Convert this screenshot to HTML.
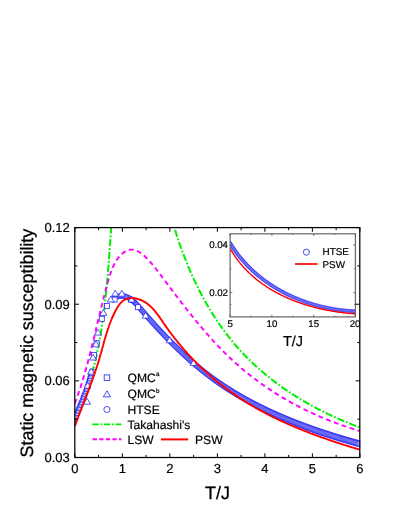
<!DOCTYPE html>
<html><head><meta charset="utf-8"><title>chart</title>
<style>html,body{margin:0;padding:0;background:#fff;}body{width:395px;height:511px;position:relative;overflow:hidden;font-family:"Liberation Sans",sans-serif;}</style>
</head><body>
<svg width="395" height="511" viewBox="0 0 395 511" style="position:absolute;left:0;top:0">
<defs><clipPath id="cm"><rect x="74.8" y="227.6" width="285.6" height="229.9"/></clipPath>
<clipPath id="ci"><rect x="230.1" y="233.8" width="125.3" height="83.1"/></clipPath></defs>
<g clip-path="url(#cm)" fill="none">
<path d="M74.7 421.8 L74.9 421.3 L75.2 420.8 L75.4 420.3 L75.6 419.8 L75.8 419.3 L76.1 418.8 L76.3 418.2 L76.5 417.7 L76.7 417.2 L77.0 416.7 L77.2 416.2 L77.4 415.7 L77.6 415.2 L77.8 414.6 L78.1 414.1 L78.3 413.6 L78.5 413.1 L78.7 412.6 L78.9 412.1 L79.1 411.5 L79.3 411.0 L79.5 410.5 L79.7 410.0 L80.0 409.5 L80.2 408.9 L80.4 408.4 L80.6 407.9 L80.8 407.4 L81.0 406.9 L81.2 406.3 L81.4 405.8 L81.6 405.3 L81.8 404.8 L82.0 404.3 L82.2 403.7 L82.4 403.2 L82.6 402.7 L82.8 402.2 L83.0 401.7 L83.2 401.1 L83.3 400.6 L83.5 400.1 L83.7 399.6 L83.9 399.0 L84.1 398.5 L84.3 398.0 L84.5 397.5 L84.7 397.0 L84.9 396.4 L85.0 395.9 L85.2 395.4 L85.4 394.9 L85.6 394.3 L85.8 393.8 L85.9 393.3 L86.1 392.8 L86.3 392.2 L86.5 391.7 L86.7 391.2 L86.8 390.7 L87.0 390.1 L87.2 389.6 L87.3 389.1 L87.5 388.5 L87.7 388.0 L87.9 387.5 L88.0 387.0 L88.2 386.4 L88.4 385.9 L88.5 385.4 L88.7 384.8 L88.9 384.3 L89.0 383.8 L89.2 383.3 L89.4 382.7 L89.5 382.2 L89.7 381.7 L89.8 381.1 L90.0 380.6 L90.1 380.1 L90.3 379.5 L90.5 379.0 L90.6 378.5 L90.8 377.9 L90.9 377.4 L91.1 376.9 L91.2 376.4 L91.4 375.8 L91.5 375.3 L91.7 374.8 L91.8 374.2 L92.0 373.7 L92.1 373.2 L92.3 372.6 L92.4 372.1 L92.6 371.6 L92.7 371.0 L92.8 370.5 L93.0 370.0 L93.1 369.4 L93.3 368.9 L93.4 368.3 L93.5 367.8 L93.7 367.3 L93.8 366.7 L94.0 366.2 L94.1 365.7 L94.2 365.1 L94.4 364.6 L94.5 364.1 L94.6 363.5 L94.8 363.0 L94.9 362.4 L95.0 361.9 L95.1 361.4 L95.3 360.8 L95.4 360.3 L95.5 359.8 L95.7 359.2 L95.8 358.7 L95.9 358.1 L96.0 357.6 L96.1 357.1 L96.3 356.5 L96.4 356.0 L96.5 355.4 L96.6 354.9 L96.8 354.4 L96.9 353.8 L97.0 353.3 L97.1 352.7 L97.2 352.2 L97.3 351.7 L97.4 351.1 L97.6 350.6 L97.7 350.0 L97.8 349.5 L97.9 349.0 L98.0 348.4 L98.1 347.9 L98.2 347.3 L98.3 346.8 L98.4 346.2 L98.5 345.7 L98.7 345.2 L98.8 344.6 L98.9 344.1 L99.0 343.5 L99.1 343.0 L99.2 342.4 L99.3 341.9 L99.4 341.4 L99.5 340.8 L99.6 340.3 L99.7 339.7 L99.8 339.2 L99.9 338.6 L100.0 338.1 L100.1 337.5 L100.2 337.0 L100.3 336.5 L100.4 335.9 L100.5 335.4 L100.5 334.8 L100.6 334.3 L100.7 333.7 L100.8 333.2 L100.9 332.6 L101.0 332.1 L101.1 331.5 L101.2 331.0 L101.3 330.4 L101.4 329.9 L101.4 329.4 L101.5 328.8 L101.6 328.3 L101.7 327.7 L101.8 327.2 L101.9 326.6 L102.0 326.1 L102.0 325.5 L102.1 325.0 L102.2 324.4 L102.3 323.9 L102.4 323.3 L102.4 322.8 L102.5 322.2 L102.6 321.7 L102.7 321.1 L102.8 320.6 L102.8 320.0 L102.9 319.5 L103.0 318.9 L103.1 318.4 L103.1 317.8 L103.2 317.3 L103.3 316.7 L103.4 316.2 L103.4 315.6 L103.5 315.1 L103.6 314.5 L103.7 314.0 L103.7 313.4 L103.8 312.9 L103.9 312.3 L103.9 311.8 L104.0 311.2 L104.1 310.7 L104.2 310.1 L104.2 309.6 L104.3 309.0 L104.4 308.5 L104.4 307.9 L104.5 307.4 L104.6 306.8 L104.6 306.3 L104.7 305.7 L104.7 305.2 L104.8 304.6 L104.9 304.1 L104.9 303.5 L105.0 303.0 L105.1 302.4 L105.1 301.9 L105.2 301.3 L105.2 300.8 L105.3 300.2 L105.4 299.7 L105.4 299.1 L105.5 298.5 L105.5 298.0 L105.6 297.4 L105.7 296.9 L105.7 296.3 L105.8 295.8 L105.8 295.2 L105.9 294.7 L105.9 294.1 L106.0 293.6 L106.1 293.0 L106.1 292.5 L106.2 291.9 L106.2 291.4 L106.3 290.8 L106.3 290.3 L106.4 289.7 L106.4 289.1 L106.5 288.6 L106.5 288.0 L106.6 287.5 L106.6 286.9 L106.7 286.4 L106.7 285.8 L106.8 285.3 L106.9 284.7 L106.9 284.2 L107.0 283.6 L107.0 283.1 L107.0 282.5 L107.1 281.9 L107.1 281.4 L107.2 280.8 L107.2 280.3 L107.3 279.7 L107.3 279.2 L107.4 278.6 L107.4 278.1 L107.5 277.5 L107.5 277.0 L107.6 276.4 L107.6 275.8 L107.7 275.3 L107.7 274.7 L107.8 274.2 L107.8 273.6 L107.9 273.1 L107.9 272.5 L107.9 272.0 L108.0 271.4 L108.0 270.9 L108.1 270.3 L108.1 269.7 L108.2 269.2 L108.2 268.6 L108.3 268.1 L108.3 267.5 L108.3 267.0 L108.4 266.4 L108.4 265.9 L108.5 265.3 L108.5 264.8 L108.6 264.2 L108.6 263.6 L108.6 263.1 L108.7 262.5 L108.7 262.0 L108.8 261.4 L108.8 260.9 L108.8 260.3 L108.9 259.8 L108.9 259.2 L109.0 258.7 L109.0 258.1 L109.0 257.5 L109.1 257.0 L109.1 256.4 L109.2 255.9 L109.2 255.3 L109.3 254.8 L109.3 254.2 L109.3 253.7 L109.4 253.1 L109.4 252.6 L109.5 252.0 L109.5 251.4 L109.5 250.9 L109.6 250.3 L109.6 249.8 L109.7 249.2 L109.7 248.7 L109.7 248.1 L109.8 247.6 L109.8 247.0 L109.9 246.5 L109.9 245.9 L109.9 245.3 L110.0 244.8 L110.0 244.2 L110.1 243.7 L110.1 243.1 L110.1 242.6 L110.2 242.0 L110.2 241.5 L110.3 240.9 L110.3 240.4 L110.3 239.8 L110.4 239.2 L110.4 238.7 L110.5 238.1 L110.5 237.6 L110.5 237.0 L110.6 236.5 L110.6 235.9 L110.7 235.4 L110.7 234.8 L110.7 234.3 L110.8 233.7 L110.8 233.2 L110.9 232.6 L110.9 232.1 L110.9 231.5 L111.0 230.9 L111.0 230.4 L111.1 229.8 L111.1 229.3 L111.1 228.7 L111.2 228.2 L111.2 227.6 L111.3 227.1 L111.3 226.5 L111.4 226.0 L111.4 225.4 L111.4 224.9 L111.5 224.3 L111.5 223.8 L111.6 223.2 L111.6 222.7 L111.6 222.1 L111.7 221.6 L111.7 221.0 L111.8 220.4 L111.8 219.9 L111.9 219.3 L111.9 218.8 L112.0 218.2 L112.0 217.7 L112.0 217.1 L112.1 216.6 L112.1 216.0 L112.2 215.5 L112.2 214.9 L112.3 214.4 L112.3 213.8 L112.4 213.3 L112.4 212.7 L112.5 212.2 L112.5 211.6 L112.6 211.1 L112.6 210.5 L112.6 210.0 L112.7 209.4 L112.7 208.9 L112.8 208.3 L112.8 207.8 L112.9 207.2 L112.9 206.7 L113.0 206.1 L113.0 205.6 L113.1 205.0" stroke="#00f000" stroke-width="2.05" stroke-dasharray="7.2 2 1.7 2"/>
<path d="M168.2 205.0 L168.3 205.7 L168.5 206.4 L168.7 207.2 L168.9 207.9 L169.1 208.7 L169.3 209.4 L169.5 210.1 L169.7 210.9 L169.9 211.6 L170.1 212.4 L170.3 213.1 L170.4 213.8 L170.6 214.6 L170.8 215.3 L171.1 216.1 L171.3 216.8 L171.5 217.5 L171.7 218.3 L171.9 219.0 L172.1 219.8 L172.3 220.5 L172.5 221.2 L172.7 222.0 L172.9 222.7 L173.1 223.5 L173.4 224.2 L173.6 224.9 L173.8 225.7 L174.0 226.4 L174.2 227.2 L174.5 227.9 L174.7 228.6 L174.9 229.4 L175.1 230.1 L175.4 230.9 L175.6 231.6 L175.8 232.3 L176.1 233.1 L176.3 233.8 L176.5 234.5 L176.8 235.3 L177.0 236.0 L177.2 236.8 L177.5 237.5 L177.7 238.2 L178.0 239.0 L178.2 239.7 L178.5 240.4 L178.7 241.2 L179.0 241.9 L179.2 242.6 L179.5 243.4 L179.7 244.1 L180.0 244.8 L180.2 245.6 L180.5 246.3 L180.7 247.0 L181.0 247.8 L181.3 248.5 L181.5 249.2 L181.8 249.9 L182.1 250.7 L182.3 251.4 L182.6 252.1 L182.9 252.9 L183.1 253.6 L183.4 254.3 L183.7 255.0 L184.0 255.8 L184.2 256.5 L184.5 257.2 L184.8 257.9 L185.1 258.7 L185.4 259.4 L185.7 260.1 L185.9 260.8 L186.2 261.6 L186.5 262.3 L186.8 263.0 L187.1 263.7 L187.4 264.4 L187.7 265.1 L188.0 265.9 L188.3 266.6 L188.6 267.3 L188.9 268.0 L189.2 268.7 L189.5 269.4 L189.8 270.2 L190.1 270.9 L190.4 271.6 L190.7 272.3 L191.1 273.0 L191.4 273.7 L191.7 274.4 L192.0 275.1 L192.3 275.8 L192.6 276.6 L193.0 277.3 L193.3 278.0 L193.6 278.7 L193.9 279.4 L194.3 280.1 L194.6 280.8 L194.9 281.5 L195.3 282.2 L195.6 282.9 L195.9 283.6 L196.3 284.3 L196.6 285.0 L197.0 285.7 L197.3 286.4 L197.6 287.1 L198.0 287.8 L198.3 288.5 L198.7 289.2 L199.0 289.8 L199.4 290.5 L199.7 291.2 L200.1 291.9 L200.4 292.6 L200.8 293.3 L201.2 294.0 L201.5 294.7 L201.9 295.3 L202.3 296.0 L202.6 296.7 L203.0 297.4 L203.4 298.1 L203.7 298.7 L204.1 299.4 L204.5 300.1 L204.9 300.8 L205.2 301.5 L205.6 302.1 L206.0 302.8 L206.4 303.5 L206.8 304.1 L207.1 304.8 L207.5 305.5 L207.9 306.2 L208.3 306.8 L208.7 307.5 L209.1 308.1 L209.5 308.8 L209.9 309.5 L210.3 310.1 L210.7 310.8 L211.1 311.5 L211.5 312.1 L211.9 312.8 L212.3 313.4 L212.7 314.1 L213.1 314.7 L213.6 315.4 L214.0 316.0 L214.4 316.7 L214.8 317.3 L215.2 318.0 L215.6 318.6 L216.1 319.3 L216.5 319.9 L216.9 320.5 L217.3 321.2 L217.8 321.8 L218.2 322.5 L218.6 323.1 L219.1 323.7 L219.5 324.4 L220.0 325.0 L220.4 325.6 L220.8 326.3 L221.3 326.9 L221.7 327.5 L222.2 328.1 L222.6 328.8 L223.1 329.4 L223.5 330.0 L224.0 330.6 L224.4 331.2 L224.9 331.9 L225.4 332.5 L225.8 333.1 L226.3 333.7 L226.7 334.3 L227.2 334.9 L227.7 335.5 L228.2 336.1 L228.6 336.7 L229.1 337.3 L229.6 337.9 L230.1 338.5 L230.5 339.1 L231.0 339.7 L231.5 340.3 L232.0 340.9 L232.5 341.5 L233.0 342.1 L233.5 342.7 L233.9 343.3 L234.4 343.9 L234.9 344.5 L235.4 345.0 L235.9 345.6 L236.4 346.2 L236.9 346.8 L237.4 347.3 L238.0 347.9 L238.5 348.5 L239.0 349.1 L239.5 349.6 L240.0 350.2 L240.5 350.8 L241.0 351.3 L241.6 351.9 L242.1 352.5 L242.6 353.0 L243.1 353.6 L243.7 354.1 L244.2 354.7 L244.7 355.2 L245.2 355.8 L245.8 356.3 L246.3 356.9 L246.9 357.4 L247.4 358.0 L247.9 358.5 L248.5 359.1 L249.0 359.6 L249.6 360.1 L250.1 360.7 L250.7 361.2 L251.2 361.7 L251.8 362.3 L252.3 362.8 L252.9 363.3 L253.4 363.8 L254.0 364.4 L254.6 364.9 L255.1 365.4 L255.7 365.9 L256.3 366.5 L256.8 367.0 L257.4 367.5 L258.0 368.0 L258.5 368.5 L259.1 369.0 L259.7 369.5 L260.3 370.0 L260.9 370.5 L261.4 371.0 L262.0 371.5 L262.6 372.0 L263.2 372.5 L263.8 373.0 L264.4 373.5 L265.0 374.0 L265.5 374.5 L266.1 375.0 L266.7 375.5 L267.3 376.0 L267.9 376.5 L268.5 376.9 L269.1 377.4 L269.7 377.9 L270.3 378.4 L270.9 378.8 L271.5 379.3 L272.2 379.8 L272.8 380.3 L273.4 380.7 L274.0 381.2 L274.6 381.7 L275.2 382.1 L275.8 382.6 L276.4 383.1 L277.1 383.5 L277.7 384.0 L278.3 384.4 L278.9 384.9 L279.6 385.3 L280.2 385.8 L280.8 386.2 L281.4 386.7 L282.1 387.1 L282.7 387.6 L283.3 388.0 L284.0 388.5 L284.6 388.9 L285.2 389.3 L285.9 389.8 L286.5 390.2 L287.1 390.6 L287.8 391.1 L288.4 391.5 L289.1 391.9 L289.7 392.4 L290.4 392.8 L291.0 393.2 L291.7 393.6 L292.3 394.1 L293.0 394.5 L293.6 394.9 L294.3 395.3 L294.9 395.7 L295.6 396.1 L296.2 396.6 L296.9 397.0 L297.5 397.4 L298.2 397.8 L298.9 398.2 L299.5 398.6 L300.2 399.0 L300.8 399.4 L301.5 399.8 L302.2 400.2 L302.8 400.6 L303.5 401.0 L304.2 401.4 L304.9 401.7 L305.5 402.1 L306.2 402.5 L306.9 402.9 L307.5 403.3 L308.2 403.7 L308.9 404.1 L309.6 404.4 L310.3 404.8 L310.9 405.2 L311.6 405.6 L312.3 405.9 L313.0 406.3 L313.7 406.7 L314.3 407.0 L315.0 407.4 L315.7 407.8 L316.4 408.1 L317.1 408.5 L317.8 408.9 L318.5 409.2 L319.2 409.6 L319.8 409.9 L320.5 410.3 L321.2 410.6 L321.9 411.0 L322.6 411.3 L323.3 411.7 L324.0 412.0 L324.7 412.4 L325.4 412.7 L326.1 413.1 L326.8 413.4 L327.5 413.7 L328.2 414.1 L328.9 414.4 L329.6 414.7 L330.3 415.1 L331.0 415.4 L331.7 415.7 L332.4 416.1 L333.1 416.4 L333.8 416.7 L334.5 417.0 L335.3 417.3 L336.0 417.7 L336.7 418.0 L337.4 418.3 L338.1 418.6 L338.8 418.9 L339.5 419.2 L340.2 419.5 L340.9 419.9 L341.7 420.2 L342.4 420.5 L343.1 420.8 L343.8 421.1 L344.5 421.4 L345.2 421.7 L346.0 422.0 L346.7 422.3 L347.4 422.6 L348.1 422.8 L348.8 423.1 L349.6 423.4 L350.3 423.7 L351.0 424.0 L351.7 424.3 L352.4 424.6 L353.2 424.9 L353.9 425.1 L354.6 425.4 L355.3 425.7 L356.1 426.0 L356.8 426.2 L357.5 426.5 L358.2 426.8 L359.0 427.1 L359.7 427.3 L360.4 427.6" stroke="#00f000" stroke-width="2.05" stroke-dasharray="7.2 2 1.7 2"/>
<path d="M74.8 403.5 L75.2 402.4 L75.6 401.2 L76.1 400.1 L76.5 399.0 L76.9 397.8 L77.3 396.7 L77.7 395.5 L78.1 394.4 L78.5 393.3 L78.8 392.1 L79.2 391.0 L79.6 389.9 L80.0 388.8 L80.4 387.6 L80.7 386.5 L81.1 385.4 L81.4 384.2 L81.8 383.1 L82.1 382.0 L82.5 380.9 L82.8 379.7 L83.2 378.6 L83.5 377.5 L83.9 376.4 L84.2 375.2 L84.5 374.1 L84.8 373.0 L85.2 371.9 L85.5 370.8 L85.8 369.6 L86.1 368.5 L86.4 367.4 L86.7 366.3 L87.0 365.2 L87.3 364.0 L87.7 362.9 L88.0 361.8 L88.2 360.7 L88.5 359.6 L88.8 358.4 L89.1 357.3 L89.4 356.2 L89.7 355.1 L90.0 354.0 L90.3 352.8 L90.6 351.7 L90.9 350.6 L91.1 349.5 L91.4 348.4 L91.7 347.2 L92.0 346.1 L92.2 345.0 L92.5 343.9 L92.8 342.8 L93.1 341.6 L93.3 340.5 L93.6 339.4 L93.9 338.3 L94.2 337.1 L94.4 336.0 L94.7 334.9 L95.0 333.8 L95.2 332.6 L95.5 331.5 L95.8 330.4 L96.0 329.3 L96.3 328.1 L96.6 327.0 L96.8 325.9 L97.1 324.7 L97.4 323.6 L97.6 322.5 L97.9 321.3 L98.2 320.2 L98.5 319.1 L98.7 317.9 L99.0 316.8 L99.3 315.7 L99.5 314.5 L99.8 313.4 L100.1 312.3 L100.4 311.1 L100.6 310.0 L100.9 308.8 L101.2 307.7 L101.5 306.5 L101.8 305.4 L102.1 304.2 L102.3 303.1 L102.6 301.9 L102.9 300.8 L103.2 299.6 L103.5 298.5 L103.8 297.3 L104.1 296.2 L104.4 295.0 L104.7 293.8 L105.0 292.7 L105.3 291.5 L105.6 290.4 L105.9 289.2 L106.2 288.0 L106.6 286.9 L106.9 285.7 L107.2 284.5 L107.5 283.3 L107.8 282.2 L108.2 281.0 L108.5 279.8 L108.9 278.6 L109.2 277.5 L109.6 276.3 L109.9 275.1 L110.3 274.0 L110.7 272.8 L111.1 271.7 L111.5 270.5 L111.9 269.4 L112.4 268.3 L112.8 267.2 L113.3 266.1 L113.8 265.1 L114.4 264.0 L114.9 263.0 L115.5 262.0 L116.1 261.0 L116.7 260.0 L117.4 259.1 L118.0 258.1 L118.7 257.2 L119.5 256.4 L120.3 255.5 L121.1 254.7 L121.9 254.0 L122.8 253.2 L123.7 252.5 L124.6 251.9 L125.5 251.3 L126.5 250.8 L127.4 250.4 L128.4 250.1 L129.4 249.8 L130.4 249.7 L131.4 249.6 L132.4 249.6 L133.3 249.8 L134.3 250.0 L135.3 250.2 L136.3 250.6 L137.3 251.0 L138.2 251.5 L139.2 252.0 L140.2 252.6 L141.1 253.3 L142.0 254.0 L143.0 254.7 L143.9 255.5 L144.8 256.3 L145.7 257.2 L146.6 258.0 L147.5 258.9 L148.3 259.8 L149.2 260.7 L150.0 261.6 L150.8 262.6 L151.6 263.5 L152.4 264.4 L153.1 265.3 L153.9 266.3 L154.6 267.2 L155.4 268.1 L156.1 269.0 L156.8 270.0 L157.5 270.9 L158.3 271.9 L159.0 272.8 L159.7 273.7 L160.4 274.7 L161.1 275.6 L161.8 276.5 L162.5 277.5 L163.2 278.4 L163.9 279.4 L164.6 280.3 L165.3 281.2 L166.0 282.2 L166.7 283.1 L167.4 284.1 L168.1 285.0 L168.8 285.9 L169.5 286.9 L170.2 287.8 L170.9 288.8 L171.7 289.7 L172.4 290.6 L173.1 291.6 L173.8 292.5 L174.5 293.4 L175.2 294.4 L175.9 295.3 L176.6 296.3 L177.3 297.2 L178.1 298.1 L178.8 299.1 L179.5 300.0 L180.2 300.9 L180.9 301.9 L181.6 302.8 L182.4 303.7 L183.1 304.7 L183.8 305.6 L184.5 306.5 L185.2 307.4 L186.0 308.4 L186.7 309.3 L187.4 310.2 L188.2 311.1 L188.9 312.1 L189.6 313.0 L190.4 313.9 L191.1 314.8 L191.8 315.7 L192.6 316.6 L193.3 317.6 L194.0 318.5 L194.8 319.4 L195.5 320.3 L196.3 321.2 L197.0 322.1 L197.8 323.0 L198.5 323.9 L199.3 324.8 L200.0 325.7 L200.8 326.6 L201.5 327.5 L202.3 328.4 L203.1 329.3 L203.8 330.2 L204.6 331.1 L205.4 332.0 L206.1 332.8 L206.9 333.7 L207.7 334.6 L208.4 335.5 L209.2 336.4 L210.0 337.2 L210.8 338.1 L211.6 339.0 L212.4 339.8 L213.1 340.7 L213.9 341.6 L214.7 342.4 L215.5 343.3 L216.3 344.1 L217.1 345.0 L217.9 345.8 L218.7 346.7 L219.6 347.5 L220.4 348.4 L221.2 349.2 L222.0 350.0 L222.8 350.9 L223.6 351.7 L224.5 352.5 L225.3 353.4 L226.1 354.2 L227.0 355.0 L227.8 355.8 L228.6 356.6 L229.5 357.4 L230.3 358.2 L231.2 359.0 L232.0 359.8 L232.9 360.6 L233.7 361.4 L234.6 362.2 L235.5 363.0 L236.3 363.8 L237.2 364.5 L238.1 365.3 L239.0 366.1 L239.9 366.9 L240.7 367.6 L241.6 368.4 L242.5 369.1 L243.4 369.9 L244.3 370.6 L245.2 371.4 L246.1 372.1 L247.0 372.9 L247.9 373.6 L248.9 374.3 L249.8 375.1 L250.7 375.8 L251.6 376.5 L252.5 377.2 L253.5 377.9 L254.4 378.6 L255.3 379.3 L256.3 380.0 L257.2 380.7 L258.2 381.4 L259.1 382.1 L260.1 382.8 L261.0 383.5 L262.0 384.2 L262.9 384.9 L263.9 385.5 L264.9 386.2 L265.8 386.9 L266.8 387.5 L267.8 388.2 L268.7 388.8 L269.7 389.5 L270.7 390.1 L271.7 390.8 L272.7 391.4 L273.6 392.1 L274.6 392.7 L275.6 393.3 L276.6 393.9 L277.6 394.6 L278.6 395.2 L279.6 395.8 L280.6 396.4 L281.6 397.0 L282.6 397.6 L283.7 398.2 L284.7 398.8 L285.7 399.4 L286.7 400.0 L287.7 400.6 L288.7 401.1 L289.8 401.7 L290.8 402.3 L291.8 402.9 L292.9 403.4 L293.9 404.0 L294.9 404.5 L296.0 405.1 L297.0 405.6 L298.0 406.2 L299.1 406.7 L300.1 407.3 L301.2 407.8 L302.2 408.3 L303.3 408.9 L304.3 409.4 L305.4 409.9 L306.4 410.4 L307.5 410.9 L308.6 411.4 L309.6 411.9 L310.7 412.4 L311.7 412.9 L312.8 413.4 L313.9 413.9 L315.0 414.4 L316.0 414.9 L317.1 415.4 L318.2 415.8 L319.3 416.3 L320.3 416.8 L321.4 417.2 L322.5 417.7 L323.6 418.2 L324.7 418.6 L325.7 419.1 L326.8 419.5 L327.9 419.9 L329.0 420.4 L330.1 420.8 L331.2 421.2 L332.3 421.7 L333.4 422.1 L334.5 422.5 L335.6 422.9 L336.7 423.3 L337.8 423.7 L338.9 424.1 L340.0 424.5 L341.1 424.9 L342.2 425.3 L343.3 425.7 L344.4 426.1 L345.5 426.4 L346.6 426.8 L347.7 427.2 L348.8 427.5 L349.9 427.9 L351.1 428.3 L352.2 428.6 L353.3 429.0 L354.4 429.3 L355.5 429.7 L356.6 430.0 L357.7 430.3 L358.9 430.7 L360.0 431.0" stroke="#ff00ff" stroke-width="1.95" stroke-dasharray="4.8 3.5"/>
<g stroke="#1e1ef2" stroke-width="0.5" fill="none"><circle cx="113.36" cy="298.35" r="2.45"/><circle cx="114.32" cy="297.83" r="2.45"/><circle cx="115.32" cy="297.36" r="2.45"/><circle cx="116.34" cy="296.95" r="2.45"/><circle cx="117.38" cy="296.60" r="2.45"/><circle cx="118.45" cy="296.32" r="2.45"/><circle cx="119.53" cy="296.11" r="2.45"/><circle cx="120.62" cy="295.98" r="2.45"/><circle cx="121.72" cy="295.94" r="2.45"/><circle cx="122.82" cy="295.99" r="2.45"/><circle cx="123.91" cy="296.13" r="2.45"/><circle cx="124.98" cy="296.36" r="2.45"/><circle cx="126.04" cy="296.67" r="2.45"/><circle cx="127.06" cy="297.06" r="2.45"/><circle cx="128.06" cy="297.52" r="2.45"/><circle cx="129.03" cy="298.05" r="2.45"/><circle cx="129.97" cy="298.62" r="2.45"/><circle cx="130.88" cy="299.24" r="2.45"/><circle cx="131.76" cy="299.90" r="2.45"/><circle cx="132.61" cy="300.59" r="2.45"/><circle cx="133.45" cy="301.31" r="2.45"/><circle cx="134.26" cy="302.06" r="2.45"/><circle cx="135.05" cy="302.82" r="2.45"/><circle cx="135.82" cy="303.60" r="2.45"/><circle cx="136.58" cy="304.40" r="2.45"/><circle cx="137.33" cy="305.20" r="2.45"/><circle cx="138.07" cy="306.02" r="2.45"/><circle cx="138.80" cy="306.84" r="2.45"/><circle cx="139.52" cy="307.67" r="2.45"/><circle cx="140.24" cy="308.50" r="2.45"/><circle cx="140.96" cy="309.33" r="2.45"/><circle cx="141.68" cy="310.17" r="2.45"/><circle cx="142.39" cy="311.00" r="2.45"/><circle cx="143.11" cy="311.83" r="2.45"/><circle cx="143.83" cy="312.66" r="2.45"/><circle cx="144.55" cy="313.50" r="2.45"/><circle cx="145.28" cy="314.33" r="2.45"/><circle cx="146.00" cy="315.15" r="2.45"/><circle cx="146.73" cy="315.98" r="2.45"/><circle cx="147.45" cy="316.81" r="2.45"/><circle cx="148.18" cy="317.63" r="2.45"/><circle cx="148.91" cy="318.46" r="2.45"/><circle cx="149.64" cy="319.28" r="2.45"/><circle cx="150.37" cy="320.10" r="2.45"/><circle cx="151.10" cy="320.92" r="2.45"/><circle cx="151.83" cy="321.74" r="2.45"/><circle cx="152.57" cy="322.56" r="2.45"/><circle cx="153.30" cy="323.38" r="2.45"/><circle cx="154.04" cy="324.20" r="2.45"/><circle cx="154.78" cy="325.01" r="2.45"/><circle cx="155.52" cy="325.82" r="2.45"/><circle cx="156.26" cy="326.64" r="2.45"/><circle cx="157.00" cy="327.45" r="2.45"/><circle cx="157.75" cy="328.26" r="2.45"/><circle cx="158.50" cy="329.07" r="2.45"/><circle cx="159.24" cy="329.87" r="2.45"/><circle cx="159.99" cy="330.68" r="2.45"/><circle cx="160.74" cy="331.48" r="2.45"/><circle cx="161.50" cy="332.28" r="2.45"/><circle cx="162.25" cy="333.09" r="2.45"/><circle cx="163.01" cy="333.88" r="2.45"/><circle cx="163.76" cy="334.68" r="2.45"/><circle cx="164.52" cy="335.48" r="2.45"/><circle cx="165.28" cy="336.27" r="2.45"/><circle cx="166.04" cy="337.07" r="2.45"/><circle cx="166.81" cy="337.86" r="2.45"/><circle cx="167.58" cy="338.65" r="2.45"/><circle cx="168.34" cy="339.43" r="2.45"/><circle cx="169.11" cy="340.22" r="2.45"/><circle cx="169.88" cy="341.00" r="2.45"/><circle cx="170.66" cy="341.79" r="2.45"/><circle cx="171.43" cy="342.57" r="2.45"/><circle cx="172.21" cy="343.35" r="2.45"/><circle cx="172.99" cy="344.12" r="2.45"/><circle cx="173.77" cy="344.90" r="2.45"/><circle cx="174.55" cy="345.67" r="2.45"/><circle cx="175.34" cy="346.44" r="2.45"/><circle cx="176.12" cy="347.21" r="2.45"/><circle cx="176.91" cy="347.98" r="2.45"/><circle cx="177.70" cy="348.74" r="2.45"/><circle cx="178.49" cy="349.50" r="2.45"/><circle cx="179.29" cy="350.27" r="2.45"/><circle cx="180.09" cy="351.02" r="2.45"/><circle cx="180.88" cy="351.78" r="2.45"/><circle cx="181.69" cy="352.53" r="2.46"/><circle cx="182.49" cy="353.29" r="2.46"/><circle cx="183.29" cy="354.03" r="2.46"/><circle cx="184.10" cy="354.78" r="2.47"/><circle cx="184.91" cy="355.53" r="2.47"/><circle cx="185.72" cy="356.27" r="2.47"/><circle cx="186.54" cy="357.01" r="2.48"/><circle cx="187.35" cy="357.75" r="2.48"/><circle cx="188.17" cy="358.48" r="2.48"/><circle cx="188.99" cy="359.21" r="2.49"/><circle cx="189.81" cy="359.94" r="2.49"/><circle cx="190.64" cy="360.67" r="2.49"/><circle cx="191.47" cy="361.40" r="2.50"/><circle cx="192.30" cy="362.12" r="2.50"/><circle cx="193.13" cy="362.84" r="2.50"/><circle cx="193.96" cy="363.55" r="2.51"/><circle cx="194.80" cy="364.27" r="2.51"/><circle cx="195.64" cy="364.98" r="2.51"/><circle cx="196.48" cy="365.69" r="2.52"/><circle cx="197.32" cy="366.40" r="2.52"/><circle cx="198.17" cy="367.10" r="2.52"/><circle cx="199.02" cy="367.80" r="2.53"/><circle cx="199.87" cy="368.50" r="2.53"/><circle cx="200.72" cy="369.19" r="2.53"/><circle cx="201.58" cy="369.88" r="2.54"/><circle cx="202.44" cy="370.57" r="2.54"/><circle cx="203.30" cy="371.25" r="2.54"/><circle cx="204.16" cy="371.94" r="2.55"/><circle cx="205.02" cy="372.62" r="2.55"/><circle cx="205.89" cy="373.29" r="2.55"/><circle cx="206.76" cy="373.97" r="2.56"/><circle cx="207.64" cy="374.64" r="2.56"/><circle cx="208.51" cy="375.30" r="2.56"/><circle cx="209.39" cy="375.97" r="2.57"/><circle cx="210.27" cy="376.63" r="2.57"/><circle cx="211.15" cy="377.28" r="2.57"/><circle cx="212.03" cy="377.94" r="2.58"/><circle cx="212.92" cy="378.59" r="2.58"/><circle cx="213.81" cy="379.23" r="2.59"/><circle cx="214.70" cy="379.88" r="2.59"/><circle cx="215.60" cy="380.52" r="2.59"/><circle cx="216.50" cy="381.15" r="2.60"/><circle cx="217.39" cy="381.79" r="2.60"/><circle cx="218.30" cy="382.42" r="2.60"/><circle cx="219.20" cy="383.04" r="2.61"/><circle cx="220.11" cy="383.67" r="2.61"/><circle cx="221.02" cy="384.29" r="2.61"/><circle cx="221.93" cy="384.90" r="2.62"/><circle cx="222.84" cy="385.51" r="2.62"/><circle cx="223.76" cy="386.12" r="2.63"/><circle cx="224.67" cy="386.73" r="2.63"/><circle cx="225.59" cy="387.33" r="2.63"/><circle cx="226.52" cy="387.93" r="2.64"/><circle cx="227.44" cy="388.53" r="2.64"/><circle cx="228.37" cy="389.12" r="2.64"/><circle cx="229.29" cy="389.71" r="2.65"/><circle cx="230.22" cy="390.30" r="2.65"/><circle cx="231.16" cy="390.88" r="2.65"/><circle cx="232.09" cy="391.46" r="2.66"/><circle cx="233.03" cy="392.04" r="2.66"/><circle cx="233.97" cy="392.62" r="2.67"/><circle cx="234.91" cy="393.19" r="2.67"/><circle cx="235.85" cy="393.75" r="2.67"/><circle cx="236.79" cy="394.32" r="2.68"/><circle cx="237.74" cy="394.88" r="2.68"/><circle cx="238.69" cy="395.44" r="2.68"/><circle cx="239.64" cy="396.00" r="2.69"/><circle cx="240.59" cy="396.55" r="2.69"/><circle cx="241.54" cy="397.10" r="2.70"/><circle cx="242.49" cy="397.64" r="2.70"/><circle cx="243.45" cy="398.19" r="2.70"/><circle cx="244.41" cy="398.73" r="2.71"/><circle cx="245.37" cy="399.26" r="2.71"/><circle cx="246.33" cy="399.80" r="2.72"/><circle cx="247.29" cy="400.33" r="2.72"/><circle cx="248.26" cy="400.86" r="2.72"/><circle cx="249.23" cy="401.38" r="2.73"/><circle cx="250.19" cy="401.91" r="2.73"/><circle cx="251.16" cy="402.43" r="2.73"/><circle cx="252.13" cy="402.94" r="2.74"/><circle cx="253.11" cy="403.46" r="2.74"/><circle cx="254.08" cy="403.97" r="2.75"/><circle cx="255.06" cy="404.48" r="2.75"/><circle cx="256.03" cy="404.98" r="2.75"/><circle cx="257.01" cy="405.48" r="2.76"/><circle cx="257.99" cy="405.98" r="2.76"/><circle cx="258.97" cy="406.48" r="2.77"/><circle cx="259.95" cy="406.97" r="2.77"/><circle cx="260.94" cy="407.47" r="2.77"/><circle cx="261.92" cy="407.96" r="2.78"/><circle cx="262.91" cy="408.44" r="2.78"/><circle cx="263.90" cy="408.92" r="2.79"/><circle cx="264.89" cy="409.41" r="2.79"/><circle cx="265.88" cy="409.88" r="2.79"/><circle cx="266.87" cy="410.36" r="2.80"/><circle cx="267.86" cy="410.83" r="2.80"/><circle cx="268.86" cy="411.30" r="2.81"/><circle cx="269.85" cy="411.77" r="2.81"/><circle cx="270.85" cy="412.23" r="2.81"/><circle cx="271.85" cy="412.70" r="2.82"/><circle cx="272.85" cy="413.16" r="2.82"/><circle cx="273.85" cy="413.61" r="2.83"/><circle cx="274.85" cy="414.07" r="2.83"/><circle cx="275.85" cy="414.52" r="2.83"/><circle cx="276.86" cy="414.97" r="2.84"/><circle cx="277.86" cy="415.42" r="2.84"/><circle cx="278.87" cy="415.86" r="2.85"/><circle cx="279.88" cy="416.30" r="2.85"/><circle cx="280.89" cy="416.74" r="2.85"/><circle cx="281.89" cy="417.18" r="2.86"/><circle cx="282.91" cy="417.61" r="2.86"/><circle cx="283.92" cy="418.05" r="2.87"/><circle cx="284.93" cy="418.48" r="2.87"/><circle cx="285.94" cy="418.90" r="2.87"/><circle cx="286.96" cy="419.33" r="2.88"/><circle cx="287.97" cy="419.75" r="2.88"/><circle cx="288.99" cy="420.17" r="2.89"/><circle cx="290.01" cy="420.59" r="2.89"/><circle cx="291.03" cy="421.01" r="2.89"/><circle cx="292.04" cy="421.42" r="2.90"/><circle cx="293.07" cy="421.83" r="2.90"/><circle cx="294.09" cy="422.24" r="2.91"/><circle cx="295.11" cy="422.64" r="2.91"/><circle cx="296.13" cy="423.05" r="2.91"/><circle cx="297.16" cy="423.45" r="2.92"/><circle cx="298.18" cy="423.85" r="2.92"/><circle cx="299.21" cy="424.25" r="2.93"/><circle cx="300.23" cy="424.64" r="2.93"/><circle cx="301.26" cy="425.04" r="2.94"/><circle cx="302.29" cy="425.43" r="2.94"/><circle cx="303.32" cy="425.82" r="2.94"/><circle cx="304.35" cy="426.20" r="2.95"/><circle cx="305.38" cy="426.59" r="2.95"/><circle cx="306.41" cy="426.97" r="2.96"/><circle cx="307.44" cy="427.35" r="2.96"/><circle cx="308.47" cy="427.73" r="2.96"/><circle cx="309.51" cy="428.10" r="2.97"/><circle cx="310.54" cy="428.48" r="2.97"/><circle cx="311.58" cy="428.85" r="2.98"/><circle cx="312.61" cy="429.22" r="2.98"/><circle cx="313.65" cy="429.58" r="2.98"/><circle cx="314.69" cy="429.95" r="2.99"/><circle cx="315.73" cy="430.31" r="2.99"/><circle cx="316.77" cy="430.67" r="3.00"/><circle cx="317.81" cy="431.03" r="3.00"/><circle cx="318.85" cy="431.39" r="3.01"/><circle cx="319.89" cy="431.75" r="3.01"/><circle cx="320.93" cy="432.10" r="3.01"/><circle cx="321.97" cy="432.45" r="3.02"/><circle cx="323.01" cy="432.80" r="3.02"/><circle cx="324.06" cy="433.15" r="3.03"/><circle cx="325.10" cy="433.49" r="3.03"/><circle cx="326.15" cy="433.84" r="3.03"/><circle cx="327.19" cy="434.18" r="3.04"/><circle cx="328.24" cy="434.52" r="3.04"/><circle cx="329.29" cy="434.86" r="3.05"/><circle cx="330.33" cy="435.19" r="3.05"/><circle cx="331.38" cy="435.53" r="3.05"/><circle cx="332.43" cy="435.86" r="3.05"/><circle cx="333.48" cy="436.19" r="3.05"/><circle cx="334.53" cy="436.52" r="3.05"/><circle cx="335.58" cy="436.85" r="3.05"/><circle cx="336.63" cy="437.17" r="3.05"/><circle cx="337.68" cy="437.49" r="3.05"/><circle cx="338.73" cy="437.82" r="3.05"/><circle cx="339.79" cy="438.13" r="3.05"/><circle cx="340.84" cy="438.45" r="3.05"/><circle cx="341.89" cy="438.77" r="3.05"/><circle cx="342.95" cy="439.08" r="3.05"/><circle cx="344.00" cy="439.40" r="3.05"/><circle cx="345.06" cy="439.71" r="3.05"/><circle cx="346.11" cy="440.02" r="3.05"/><circle cx="347.17" cy="440.32" r="3.05"/><circle cx="348.22" cy="440.63" r="3.05"/><circle cx="349.28" cy="440.93" r="3.05"/><circle cx="350.34" cy="441.23" r="3.05"/><circle cx="351.40" cy="441.53" r="3.05"/><circle cx="352.46" cy="441.83" r="3.05"/><circle cx="353.52" cy="442.13" r="3.05"/><circle cx="354.58" cy="442.43" r="3.05"/><circle cx="355.64" cy="442.72" r="3.05"/><circle cx="356.70" cy="443.01" r="3.05"/><circle cx="357.76" cy="443.30" r="3.05"/><circle cx="358.82" cy="443.59" r="3.05"/><circle cx="359.82" cy="443.86" r="3.05"/></g>
<g stroke="#2c2cf2" stroke-width="0.8" fill="#fff"><rect x="73.1" y="415.9" width="4.2" height="4.2"/><rect x="73.7" y="414.3" width="4.2" height="4.2"/><rect x="74.4" y="412.7" width="4.2" height="4.2"/><rect x="75.0" y="411.2" width="4.2" height="4.2"/><rect x="75.7" y="409.6" width="4.2" height="4.2"/><rect x="76.4" y="408.0" width="4.2" height="4.2"/><rect x="77.0" y="406.5" width="4.2" height="4.2"/><rect x="77.7" y="404.9" width="4.2" height="4.2"/><rect x="78.3" y="403.3" width="4.2" height="4.2"/><rect x="79.0" y="401.8" width="4.2" height="4.2"/><rect x="79.6" y="400.2" width="4.2" height="4.2"/><rect x="80.3" y="398.6" width="4.2" height="4.2"/><rect x="80.9" y="397.0" width="4.2" height="4.2"/><rect x="81.5" y="395.5" width="4.2" height="4.2"/><rect x="82.1" y="393.9" width="4.2" height="4.2"/><rect x="82.7" y="392.3" width="4.2" height="4.2"/><rect x="83.3" y="390.7" width="4.2" height="4.2"/><rect x="83.9" y="389.1" width="4.2" height="4.2"/><rect x="84.5" y="387.5" width="4.2" height="4.2"/><rect x="85.0" y="385.9" width="4.2" height="4.2"/><rect x="85.6" y="384.3" width="4.2" height="4.2"/><rect x="86.1" y="382.7" width="4.2" height="4.2"/><rect x="86.6" y="381.0" width="4.2" height="4.2"/><rect x="87.1" y="379.4" width="4.2" height="4.2"/><rect x="87.6" y="377.8" width="4.2" height="4.2"/><rect x="88.0" y="376.1" width="4.2" height="4.2"/><rect x="88.5" y="374.5" width="4.2" height="4.2"/><rect x="88.9" y="372.8" width="4.2" height="4.2"/><rect x="89.3" y="371.2" width="4.2" height="4.2"/><rect x="89.7" y="369.5" width="4.2" height="4.2"/><rect x="104.5" y="303.4" width="5.0" height="5.0"/><rect x="99.3" y="316.3" width="5.0" height="5.0"/><rect x="112.1" y="297.1" width="5.0" height="5.0"/><rect x="135.5" y="304.7" width="5.0" height="5.0"/><rect x="129.0" y="297.3" width="5.0" height="5.0"/><rect x="94.0" y="340.5" width="5.0" height="5.0"/><rect x="91.5" y="352.5" width="5.0" height="5.0"/><path d="M115.2 290.1 L118.7 296.0 L111.8 296.0 Z"/><path d="M121.8 290.3 L125.2 296.2 L118.3 296.2 Z"/><path d="M110.8 296.1 L114.2 302.0 L107.3 302.0 Z"/><path d="M103.3 309.5 L106.8 315.4 L99.8 315.4 Z"/><path d="M98.0 329.1 L101.5 335.0 L94.5 335.0 Z"/><path d="M95.9 340.9 L99.4 346.8 L92.5 346.8 Z"/><path d="M93.0 354.1 L96.5 360.0 L89.5 360.0 Z"/><path d="M91.1 368.2 L94.5 374.1 L87.6 374.1 Z"/><path d="M87.6 382.3 L91.0 388.2 L84.1 388.2 Z"/><path d="M87.1 398.3 L90.5 404.2 L83.6 404.2 Z"/><path d="M131.6 296.2 L135.0 302.1 L128.2 302.1 Z"/><path d="M145.6 312.2 L149.0 318.1 L142.2 318.1 Z"/><path d="M169.6 336.9 L173.0 342.8 L166.2 342.8 Z"/><path d="M193.6 359.5 L197.0 365.4 L190.2 365.4 Z"/></g>
<path d="M75.0 425.8 L75.4 424.8 L75.7 423.8 L76.1 422.8 L76.4 421.8 L76.8 420.8 L77.2 419.8 L77.5 418.8 L77.9 417.8 L78.3 416.8 L78.6 415.8 L79.0 414.8 L79.4 413.8 L79.7 412.8 L80.1 411.8 L80.5 410.8 L80.9 409.8 L81.3 408.8 L81.6 407.8 L82.0 406.9 L82.4 405.9 L82.8 404.9 L83.2 403.9 L83.6 402.9 L83.9 401.9 L84.3 400.9 L84.7 399.9 L85.1 398.9 L85.5 397.9 L85.9 396.9 L86.3 395.9 L86.6 394.9 L87.0 393.9 L87.4 392.9 L87.8 391.9 L88.2 390.9 L88.6 389.9 L88.9 388.9 L89.3 387.9 L89.7 386.9 L90.1 385.9 L90.5 384.9 L90.8 383.9 L91.2 382.9 L91.6 381.9 L91.9 380.9 L92.3 379.9 L92.7 378.9 L93.0 377.9 L93.4 376.9 L93.8 375.9 L94.1 374.9 L94.5 373.9 L94.8 372.9 L95.2 371.8 L95.5 370.8 L95.8 369.8 L96.2 368.8 L96.5 367.8 L96.8 366.8 L97.2 365.8 L97.5 364.8 L97.8 363.8 L98.1 362.7 L98.4 361.7 L98.8 360.7 L99.1 359.7 L99.4 358.7 L99.6 357.7 L99.9 356.6 L100.2 355.6 L100.5 354.6 L100.8 353.6 L101.1 352.6 L101.4 351.5 L101.7 350.5 L101.9 349.5 L102.2 348.5 L102.5 347.4 L102.8 346.4 L103.1 345.4 L103.3 344.4 L103.6 343.4 L103.9 342.3 L104.2 341.3 L104.5 340.3 L104.8 339.3 L105.1 338.2 L105.4 337.2 L105.7 336.2 L106.0 335.2 L106.3 334.2 L106.6 333.1 L106.9 332.1 L107.3 331.1 L107.6 330.1 L107.9 329.1 L108.3 328.1 L108.6 327.0 L109.0 326.0 L109.3 325.0 L109.7 324.0 L110.1 323.0 L110.5 322.0 L110.9 321.0 L111.3 320.0 L111.7 319.0 L112.1 318.0 L112.6 317.0 L113.0 316.0 L113.5 315.0 L113.9 314.0 L114.4 313.0 L114.9 312.0 L115.4 311.0 L115.9 310.0 L116.5 309.0 L117.0 308.0 L117.6 307.1 L118.2 306.2 L118.8 305.3 L119.4 304.4 L120.1 303.6 L120.8 302.9 L121.5 302.1 L122.2 301.4 L123.0 300.8 L123.8 300.2 L124.6 299.7 L125.5 299.3 L126.4 298.9 L127.4 298.6 L128.3 298.4 L129.4 298.3 L130.4 298.1 L131.4 298.1 L132.5 298.1 L133.5 298.2 L134.6 298.3 L135.6 298.5 L136.7 298.7 L137.8 299.0 L138.8 299.3 L139.8 299.6 L140.8 300.0 L141.8 300.4 L142.7 300.9 L143.6 301.3 L144.5 301.8 L145.4 302.4 L146.3 302.9 L147.1 303.5 L147.9 304.2 L148.7 304.8 L149.5 305.5 L150.3 306.2 L151.0 306.9 L151.8 307.6 L152.5 308.4 L153.2 309.2 L153.9 309.9 L154.6 310.7 L155.3 311.6 L156.0 312.4 L156.6 313.2 L157.3 314.1 L157.9 315.0 L158.5 315.9 L159.2 316.7 L159.8 317.6 L160.4 318.5 L161.1 319.4 L161.7 320.3 L162.3 321.2 L162.9 322.1 L163.5 323.0 L164.2 324.0 L164.8 324.9 L165.4 325.8 L166.0 326.7 L166.7 327.5 L167.3 328.4 L167.9 329.3 L168.6 330.2 L169.2 331.1 L169.9 332.0 L170.5 332.8 L171.2 333.7 L171.8 334.6 L172.5 335.4 L173.1 336.3 L173.8 337.2 L174.5 338.0 L175.1 338.9 L175.8 339.7 L176.5 340.5 L177.1 341.4 L177.8 342.2 L178.5 343.1 L179.2 343.9 L179.9 344.7 L180.6 345.5 L181.3 346.4 L181.9 347.2 L182.6 348.0 L183.3 348.8 L184.0 349.6 L184.8 350.4 L185.5 351.2 L186.2 352.0 L186.9 352.8 L187.6 353.6 L188.3 354.4 L189.0 355.2 L189.8 356.0 L190.5 356.7 L191.2 357.5 L192.0 358.3 L192.7 359.0 L193.4 359.8 L194.2 360.6 L194.9 361.3 L195.7 362.1 L196.4 362.8 L197.2 363.6 L197.9 364.3 L198.7 365.1 L199.4 365.8 L200.2 366.6 L201.0 367.3 L201.7 368.0 L202.5 368.7 L203.3 369.5 L204.0 370.2 L204.8 370.9 L205.6 371.6 L206.4 372.3 L207.2 373.0 L207.9 373.7 L208.7 374.4 L209.5 375.1 L210.3 375.8 L211.1 376.5 L211.9 377.2 L212.7 377.9 L213.5 378.6 L214.3 379.3 L215.2 379.9 L216.0 380.6 L216.8 381.3 L217.6 381.9 L218.4 382.6 L219.2 383.3 L220.1 383.9 L220.9 384.6 L221.7 385.2 L222.6 385.9 L223.4 386.5 L224.2 387.2 L225.1 387.8 L225.9 388.4 L226.8 389.1 L227.6 389.7 L228.5 390.3 L229.3 390.9 L230.2 391.5 L231.0 392.2 L231.9 392.8 L232.8 393.4 L233.6 394.0 L234.5 394.6 L235.4 395.2 L236.2 395.8 L237.1 396.4 L238.0 397.0 L238.9 397.6 L239.8 398.1 L240.6 398.7 L241.5 399.3 L242.4 399.9 L243.3 400.4 L244.2 401.0 L245.1 401.6 L246.0 402.1 L246.9 402.7 L247.8 403.2 L248.7 403.8 L249.6 404.3 L250.6 404.9 L251.5 405.4 L252.4 406.0 L253.3 406.5 L254.2 407.0 L255.2 407.6 L256.1 408.1 L257.0 408.6 L257.9 409.1 L258.9 409.7 L259.8 410.2 L260.7 410.7 L261.7 411.2 L262.6 411.7 L263.6 412.2 L264.5 412.7 L265.5 413.2 L266.4 413.7 L267.4 414.2 L268.3 414.7 L269.3 415.2 L270.2 415.7 L271.2 416.1 L272.1 416.6 L273.1 417.1 L274.1 417.6 L275.0 418.0 L276.0 418.5 L277.0 419.0 L277.9 419.4 L278.9 419.9 L279.9 420.3 L280.9 420.8 L281.8 421.2 L282.8 421.7 L283.8 422.1 L284.8 422.6 L285.7 423.0 L286.7 423.5 L287.7 423.9 L288.7 424.3 L289.7 424.8 L290.7 425.2 L291.7 425.6 L292.6 426.0 L293.6 426.5 L294.6 426.9 L295.6 427.3 L296.6 427.7 L297.6 428.1 L298.6 428.5 L299.6 428.9 L300.6 429.3 L301.6 429.7 L302.6 430.1 L303.6 430.5 L304.6 430.9 L305.6 431.3 L306.6 431.7 L307.6 432.1 L308.6 432.5 L309.6 432.9 L310.6 433.3 L311.6 433.6 L312.6 434.0 L313.6 434.4 L314.6 434.8 L315.6 435.1 L316.6 435.5 L317.6 435.9 L318.6 436.2 L319.6 436.6 L320.6 437.0 L321.7 437.3 L322.7 437.7 L323.7 438.0 L324.7 438.4 L325.7 438.7 L326.7 439.1 L327.7 439.4 L328.7 439.8 L329.7 440.1 L330.7 440.5 L331.7 440.8 L332.7 441.1 L333.7 441.5 L334.8 441.8 L335.8 442.2 L336.8 442.5 L337.8 442.8 L338.8 443.1 L339.8 443.5 L340.8 443.8 L341.8 444.1 L342.8 444.4 L343.8 444.8 L344.8 445.1 L345.8 445.4 L346.8 445.7 L347.8 446.0 L348.8 446.3 L349.8 446.6 L350.8 447.0 L351.8 447.3 L352.8 447.6 L353.8 447.9 L354.8 448.2 L355.8 448.5 L356.8 448.8 L357.8 449.1 L358.8 449.4 L359.8 449.7" stroke="#ff0000" stroke-width="1.9"/>
</g>
<rect x="230.1" y="233.8" width="125.3" height="83.1" fill="#fff" stroke="none"/>
<g clip-path="url(#ci)" fill="none">
<g stroke="#2c2cf2" stroke-width="0.5"><circle cx="229.7" cy="242.4" r="1.62"/><circle cx="230.2" cy="243.2" r="1.62"/><circle cx="230.7" cy="244.1" r="1.62"/><circle cx="231.3" cy="244.9" r="1.62"/><circle cx="231.8" cy="245.8" r="1.62"/><circle cx="232.3" cy="246.6" r="1.62"/><circle cx="232.9" cy="247.4" r="1.62"/><circle cx="233.4" cy="248.3" r="1.62"/><circle cx="234.0" cy="249.1" r="1.62"/><circle cx="234.6" cy="249.9" r="1.62"/><circle cx="235.1" cy="250.7" r="1.62"/><circle cx="235.7" cy="251.6" r="1.62"/><circle cx="236.3" cy="252.4" r="1.62"/><circle cx="236.9" cy="253.2" r="1.62"/><circle cx="237.5" cy="254.0" r="1.62"/><circle cx="238.1" cy="254.8" r="1.62"/><circle cx="238.7" cy="255.6" r="1.62"/><circle cx="239.3" cy="256.3" r="1.62"/><circle cx="240.0" cy="257.1" r="1.62"/><circle cx="240.6" cy="257.9" r="1.62"/><circle cx="241.2" cy="258.7" r="1.62"/><circle cx="241.9" cy="259.4" r="1.62"/><circle cx="242.5" cy="260.2" r="1.62"/><circle cx="243.2" cy="261.0" r="1.62"/><circle cx="243.9" cy="261.7" r="1.62"/><circle cx="244.5" cy="262.4" r="1.62"/><circle cx="245.2" cy="263.2" r="1.62"/><circle cx="245.9" cy="263.9" r="1.62"/><circle cx="246.6" cy="264.6" r="1.62"/><circle cx="247.3" cy="265.4" r="1.62"/><circle cx="247.9" cy="266.1" r="1.62"/><circle cx="248.6" cy="266.8" r="1.62"/><circle cx="249.4" cy="267.5" r="1.62"/><circle cx="250.1" cy="268.2" r="1.62"/><circle cx="250.8" cy="268.9" r="1.62"/><circle cx="251.5" cy="269.6" r="1.62"/><circle cx="252.2" cy="270.3" r="1.62"/><circle cx="253.0" cy="271.0" r="1.62"/><circle cx="253.7" cy="271.6" r="1.61"/><circle cx="254.5" cy="272.3" r="1.61"/><circle cx="255.2" cy="273.0" r="1.61"/><circle cx="256.0" cy="273.6" r="1.61"/><circle cx="256.7" cy="274.3" r="1.61"/><circle cx="257.5" cy="274.9" r="1.61"/><circle cx="258.2" cy="275.6" r="1.61"/><circle cx="259.0" cy="276.2" r="1.61"/><circle cx="259.8" cy="276.8" r="1.61"/><circle cx="260.6" cy="277.5" r="1.60"/><circle cx="261.4" cy="278.1" r="1.60"/><circle cx="262.1" cy="278.7" r="1.60"/><circle cx="262.9" cy="279.3" r="1.60"/><circle cx="263.7" cy="279.9" r="1.60"/><circle cx="264.5" cy="280.5" r="1.60"/><circle cx="265.3" cy="281.1" r="1.60"/><circle cx="266.2" cy="281.7" r="1.60"/><circle cx="267.0" cy="282.3" r="1.59"/><circle cx="267.8" cy="282.8" r="1.59"/><circle cx="268.6" cy="283.4" r="1.59"/><circle cx="269.4" cy="284.0" r="1.59"/><circle cx="270.3" cy="284.5" r="1.59"/><circle cx="271.1" cy="285.1" r="1.59"/><circle cx="271.9" cy="285.6" r="1.59"/><circle cx="272.8" cy="286.1" r="1.59"/><circle cx="273.6" cy="286.7" r="1.58"/><circle cx="274.5" cy="287.2" r="1.58"/><circle cx="275.3" cy="287.7" r="1.58"/><circle cx="276.2" cy="288.2" r="1.58"/><circle cx="277.1" cy="288.8" r="1.58"/><circle cx="277.9" cy="289.3" r="1.58"/><circle cx="278.8" cy="289.8" r="1.58"/><circle cx="279.7" cy="290.3" r="1.58"/><circle cx="280.5" cy="290.7" r="1.57"/><circle cx="281.4" cy="291.2" r="1.57"/><circle cx="282.3" cy="291.7" r="1.57"/><circle cx="283.2" cy="292.2" r="1.57"/><circle cx="284.1" cy="292.6" r="1.57"/><circle cx="284.9" cy="293.1" r="1.57"/><circle cx="285.8" cy="293.5" r="1.57"/><circle cx="286.7" cy="294.0" r="1.56"/><circle cx="287.6" cy="294.4" r="1.56"/><circle cx="288.5" cy="294.9" r="1.56"/><circle cx="289.4" cy="295.3" r="1.56"/><circle cx="290.3" cy="295.7" r="1.56"/><circle cx="291.2" cy="296.1" r="1.56"/><circle cx="292.2" cy="296.6" r="1.56"/><circle cx="293.1" cy="297.0" r="1.56"/><circle cx="294.0" cy="297.4" r="1.55"/><circle cx="294.9" cy="297.8" r="1.55"/><circle cx="295.8" cy="298.1" r="1.55"/><circle cx="296.7" cy="298.5" r="1.55"/><circle cx="297.7" cy="298.9" r="1.55"/><circle cx="298.6" cy="299.3" r="1.55"/><circle cx="299.5" cy="299.6" r="1.55"/><circle cx="300.5" cy="300.0" r="1.54"/><circle cx="301.4" cy="300.4" r="1.54"/><circle cx="302.3" cy="300.7" r="1.54"/><circle cx="303.3" cy="301.1" r="1.54"/><circle cx="304.2" cy="301.4" r="1.54"/><circle cx="305.2" cy="301.7" r="1.54"/><circle cx="306.1" cy="302.1" r="1.54"/><circle cx="307.0" cy="302.4" r="1.53"/><circle cx="308.0" cy="302.7" r="1.53"/><circle cx="308.9" cy="303.0" r="1.53"/><circle cx="309.9" cy="303.3" r="1.53"/><circle cx="310.9" cy="303.6" r="1.53"/><circle cx="311.8" cy="303.9" r="1.53"/><circle cx="312.8" cy="304.2" r="1.53"/><circle cx="313.7" cy="304.5" r="1.52"/><circle cx="314.7" cy="304.8" r="1.52"/><circle cx="315.6" cy="305.0" r="1.52"/><circle cx="316.6" cy="305.3" r="1.52"/><circle cx="317.6" cy="305.5" r="1.52"/><circle cx="318.5" cy="305.8" r="1.52"/><circle cx="319.5" cy="306.1" r="1.52"/><circle cx="320.5" cy="306.3" r="1.51"/><circle cx="321.5" cy="306.5" r="1.51"/><circle cx="322.4" cy="306.8" r="1.51"/><circle cx="323.4" cy="307.0" r="1.51"/><circle cx="324.4" cy="307.2" r="1.51"/><circle cx="325.4" cy="307.4" r="1.51"/><circle cx="326.3" cy="307.6" r="1.51"/><circle cx="327.3" cy="307.8" r="1.50"/><circle cx="328.3" cy="308.0" r="1.50"/><circle cx="329.3" cy="308.2" r="1.50"/><circle cx="330.3" cy="308.4" r="1.50"/><circle cx="331.2" cy="308.6" r="1.50"/><circle cx="332.2" cy="308.8" r="1.50"/><circle cx="333.2" cy="308.9" r="1.50"/><circle cx="334.2" cy="309.1" r="1.50"/><circle cx="335.2" cy="309.3" r="1.50"/><circle cx="336.2" cy="309.4" r="1.50"/><circle cx="337.2" cy="309.6" r="1.50"/><circle cx="338.2" cy="309.7" r="1.50"/><circle cx="339.1" cy="309.8" r="1.50"/><circle cx="340.1" cy="310.0" r="1.50"/><circle cx="341.1" cy="310.1" r="1.50"/><circle cx="342.1" cy="310.2" r="1.50"/><circle cx="343.1" cy="310.3" r="1.50"/><circle cx="344.1" cy="310.4" r="1.50"/><circle cx="345.1" cy="310.5" r="1.50"/><circle cx="346.1" cy="310.6" r="1.50"/><circle cx="347.1" cy="310.7" r="1.50"/><circle cx="348.1" cy="310.8" r="1.50"/><circle cx="349.1" cy="310.9" r="1.50"/><circle cx="350.1" cy="311.0" r="1.50"/><circle cx="351.1" cy="311.0" r="1.50"/><circle cx="352.1" cy="311.1" r="1.50"/><circle cx="353.1" cy="311.1" r="1.50"/><circle cx="354.1" cy="311.2" r="1.50"/><circle cx="355.1" cy="311.2" r="1.50"/><circle cx="356.1" cy="311.3" r="1.50"/></g>
<path d="M229.5 247.3 L229.7 247.6 L229.9 248.0 L230.1 248.3 L230.3 248.6 L230.5 249.0 L230.6 249.3 L230.8 249.7 L231.0 250.0 L231.2 250.3 L231.4 250.6 L231.6 251.0 L231.8 251.3 L232.0 251.6 L232.2 252.0 L232.4 252.3 L232.6 252.6 L232.8 252.9 L233.0 253.3 L233.2 253.6 L233.4 253.9 L233.6 254.2 L233.8 254.5 L234.1 254.9 L234.3 255.2 L234.5 255.5 L234.7 255.8 L234.9 256.1 L235.1 256.4 L235.3 256.8 L235.6 257.1 L235.8 257.4 L236.0 257.7 L236.2 258.0 L236.4 258.3 L236.6 258.6 L236.9 258.9 L237.1 259.2 L237.3 259.5 L237.5 259.8 L237.8 260.1 L238.0 260.4 L238.2 260.7 L238.5 261.0 L238.7 261.3 L238.9 261.6 L239.1 261.9 L239.4 262.2 L239.6 262.5 L239.9 262.8 L240.1 263.1 L240.3 263.4 L240.6 263.7 L240.8 264.0 L241.0 264.2 L241.3 264.5 L241.5 264.8 L241.8 265.1 L242.0 265.4 L242.3 265.7 L242.5 265.9 L242.7 266.2 L243.0 266.5 L243.2 266.8 L243.5 267.1 L243.7 267.3 L244.0 267.6 L244.2 267.9 L244.5 268.2 L244.7 268.4 L245.0 268.7 L245.3 269.0 L245.5 269.3 L245.8 269.5 L246.0 269.8 L246.3 270.1 L246.5 270.3 L246.8 270.6 L247.1 270.9 L247.3 271.1 L247.6 271.4 L247.9 271.7 L248.1 271.9 L248.4 272.2 L248.7 272.4 L248.9 272.7 L249.2 273.0 L249.5 273.2 L249.7 273.5 L250.0 273.7 L250.3 274.0 L250.5 274.2 L250.8 274.5 L251.1 274.7 L251.4 275.0 L251.6 275.2 L251.9 275.5 L252.2 275.7 L252.5 276.0 L252.7 276.2 L253.0 276.5 L253.3 276.7 L253.6 276.9 L253.9 277.2 L254.1 277.4 L254.4 277.7 L254.7 277.9 L255.0 278.2 L255.3 278.4 L255.6 278.6 L255.9 278.9 L256.1 279.1 L256.4 279.3 L256.7 279.6 L257.0 279.8 L257.3 280.0 L257.6 280.3 L257.9 280.5 L258.2 280.7 L258.5 280.9 L258.8 281.2 L259.1 281.4 L259.4 281.6 L259.6 281.8 L259.9 282.1 L260.2 282.3 L260.5 282.5 L260.8 282.7 L261.1 283.0 L261.4 283.2 L261.7 283.4 L262.0 283.6 L262.3 283.8 L262.6 284.0 L263.0 284.3 L263.3 284.5 L263.6 284.7 L263.9 284.9 L264.2 285.1 L264.5 285.3 L264.8 285.5 L265.1 285.7 L265.4 285.9 L265.7 286.1 L266.0 286.4 L266.3 286.6 L266.6 286.8 L267.0 287.0 L267.3 287.2 L267.6 287.4 L267.9 287.6 L268.2 287.8 L268.5 288.0 L268.8 288.2 L269.2 288.4 L269.5 288.6 L269.8 288.8 L270.1 289.0 L270.4 289.1 L270.7 289.3 L271.1 289.5 L271.4 289.7 L271.7 289.9 L272.0 290.1 L272.4 290.3 L272.7 290.5 L273.0 290.7 L273.3 290.9 L273.6 291.0 L274.0 291.2 L274.3 291.4 L274.6 291.6 L274.9 291.8 L275.3 292.0 L275.6 292.1 L275.9 292.3 L276.3 292.5 L276.6 292.7 L276.9 292.9 L277.2 293.0 L277.6 293.2 L277.9 293.4 L278.2 293.6 L278.6 293.7 L278.9 293.9 L279.2 294.1 L279.6 294.2 L279.9 294.4 L280.2 294.6 L280.6 294.7 L280.9 294.9 L281.3 295.1 L281.6 295.2 L281.9 295.4 L282.3 295.6 L282.6 295.7 L282.9 295.9 L283.3 296.1 L283.6 296.2 L284.0 296.4 L284.3 296.5 L284.6 296.7 L285.0 296.9 L285.3 297.0 L285.7 297.2 L286.0 297.3 L286.3 297.5 L286.7 297.6 L287.0 297.8 L287.4 297.9 L287.7 298.1 L288.1 298.2 L288.4 298.4 L288.8 298.5 L289.1 298.7 L289.5 298.8 L289.8 299.0 L290.1 299.1 L290.5 299.3 L290.8 299.4 L291.2 299.6 L291.5 299.7 L291.9 299.9 L292.2 300.0 L292.6 300.1 L292.9 300.3 L293.3 300.4 L293.6 300.6 L294.0 300.7 L294.3 300.8 L294.7 301.0 L295.0 301.1 L295.4 301.2 L295.8 301.4 L296.1 301.5 L296.5 301.6 L296.8 301.8 L297.2 301.9 L297.5 302.0 L297.9 302.2 L298.2 302.3 L298.6 302.4 L298.9 302.5 L299.3 302.7 L299.7 302.8 L300.0 302.9 L300.4 303.0 L300.7 303.2 L301.1 303.3 L301.4 303.4 L301.8 303.5 L302.2 303.6 L302.5 303.8 L302.9 303.9 L303.2 304.0 L303.6 304.1 L304.0 304.2 L304.3 304.4 L304.7 304.5 L305.0 304.6 L305.4 304.7 L305.8 304.8 L306.1 304.9 L306.5 305.0 L306.8 305.1 L307.2 305.3 L307.6 305.4 L307.9 305.5 L308.3 305.6 L308.7 305.7 L309.0 305.8 L309.4 305.9 L309.7 306.0 L310.1 306.1 L310.5 306.2 L310.8 306.3 L311.2 306.4 L311.6 306.5 L311.9 306.6 L312.3 306.7 L312.7 306.8 L313.0 306.9 L313.4 307.0 L313.8 307.1 L314.1 307.2 L314.5 307.3 L314.9 307.4 L315.2 307.5 L315.6 307.6 L316.0 307.7 L316.3 307.8 L316.7 307.9 L317.1 308.0 L317.4 308.0 L317.8 308.1 L318.2 308.2 L318.5 308.3 L318.9 308.4 L319.3 308.5 L319.6 308.6 L320.0 308.7 L320.4 308.7 L320.7 308.8 L321.1 308.9 L321.5 309.0 L321.8 309.1 L322.2 309.2 L322.6 309.2 L322.9 309.3 L323.3 309.4 L323.7 309.5 L324.0 309.6 L324.4 309.6 L324.8 309.7 L325.2 309.8 L325.5 309.9 L325.9 309.9 L326.3 310.0 L326.6 310.1 L327.0 310.2 L327.4 310.2 L327.7 310.3 L328.1 310.4 L328.5 310.4 L328.9 310.5 L329.2 310.6 L329.6 310.6 L330.0 310.7 L330.3 310.8 L330.7 310.8 L331.1 310.9 L331.4 311.0 L331.8 311.0 L332.2 311.1 L332.5 311.2 L332.9 311.2 L333.3 311.3 L333.7 311.3 L334.0 311.4 L334.4 311.5 L334.8 311.5 L335.1 311.6 L335.5 311.6 L335.9 311.7 L336.2 311.8 L336.6 311.8 L337.0 311.9 L337.4 311.9 L337.7 312.0 L338.1 312.0 L338.5 312.1 L338.8 312.1 L339.2 312.2 L339.6 312.2 L339.9 312.3 L340.3 312.3 L340.7 312.4 L341.0 312.4 L341.4 312.5 L341.8 312.5 L342.1 312.6 L342.5 312.6 L342.9 312.7 L343.3 312.7 L343.6 312.7 L344.0 312.8 L344.4 312.8 L344.7 312.9 L345.1 312.9 L345.5 313.0 L345.8 313.0 L346.2 313.0 L346.6 313.1 L346.9 313.1 L347.3 313.2 L347.7 313.2 L348.0 313.2 L348.4 313.3 L348.8 313.3 L349.1 313.3 L349.5 313.4 L349.9 313.4 L350.2 313.4 L350.6 313.5 L351.0 313.5 L351.3 313.5 L351.7 313.6 L352.1 313.6 L352.4 313.6 L352.8 313.6 L353.1 313.7 L353.5 313.7 L353.9 313.7 L354.2 313.8 L354.6 313.8 L355.0 313.8 L355.3 313.8 L355.7 313.9 L356.1 313.9 L356.4 313.9" stroke="#ff0000" stroke-width="1.4"/>
</g>
<rect x="230.1" y="233.8" width="125.3" height="83.1" fill="none" stroke="#6a6a6a" stroke-width="1.25"/>
<path d="M230.1 316.9 v-2.2 M230.1 233.8 v2.2 M251.0 316.9 v-1.3 M251.0 233.8 v1.3 M271.9 316.9 v-2.2 M271.9 233.8 v2.2 M292.8 316.9 v-1.3 M292.8 233.8 v1.3 M313.7 316.9 v-2.2 M313.7 233.8 v2.2 M334.6 316.9 v-1.3 M334.6 233.8 v1.3 M355.4 316.9 v-2.2 M355.4 233.8 v2.2 M230.1 304.5 h1.3 M355.4 304.5 h-1.3 M230.1 292.6 h2.2 M355.4 292.6 h-2.2 M230.1 268.8 h1.3 M355.4 268.8 h-1.3 M230.1 245.0 h2.2 M355.4 245.0 h-2.2" stroke="#555" stroke-width="0.8" fill="none"/>
<rect x="74.8" y="227.6" width="285.0" height="229.9" fill="none" stroke="#000" stroke-width="1.25"/>
<path d="M74.85 457.5 v-4.2 M74.85 227.6 v4.2 M98.60 457.5 v-2.6 M98.60 227.6 v2.6 M122.36 457.5 v-4.2 M122.36 227.6 v4.2 M146.11 457.5 v-2.6 M146.11 227.6 v2.6 M169.87 457.5 v-4.2 M169.87 227.6 v4.2 M193.62 457.5 v-2.6 M193.62 227.6 v2.6 M217.37 457.5 v-4.2 M217.37 227.6 v4.2 M241.13 457.5 v-2.6 M241.13 227.6 v2.6 M264.88 457.5 v-4.2 M264.88 227.6 v4.2 M288.64 457.5 v-2.6 M288.64 227.6 v2.6 M312.39 457.5 v-4.2 M312.39 227.6 v4.2 M336.15 457.5 v-2.6 M336.15 227.6 v2.6 M359.90 457.5 v-4.2 M359.90 227.6 v4.2 M74.8 457.50 h4.2 M359.9 457.50 h-4.2 M74.8 419.18 h2.6 M359.9 419.18 h-2.6 M74.8 380.87 h4.2 M359.9 380.87 h-4.2 M74.8 342.55 h2.6 M359.9 342.55 h-2.6 M74.8 304.23 h4.2 M359.9 304.23 h-4.2 M74.8 265.92 h2.6 M359.9 265.92 h-2.6 M74.8 227.60 h4.2 M359.9 227.60 h-4.2" stroke="#000" stroke-width="1" fill="none"/>
<g stroke="#2c2cf2" stroke-width="0.85" fill="none">
<rect x="104.2" y="374.9" width="5.5" height="5.5"/>
<path d="M107.0 390.8 L110.7 396.9 L103.3 396.9 Z"/>
<circle cx="106.9" cy="409.5" r="3.05"/>
<circle cx="306.4" cy="252.2" r="3.05"/>
</g>
<path d="M92.3 424.4 H121.4" stroke="#00f000" stroke-width="1.9" stroke-dasharray="6.6 1.6 1.7 1.7" fill="none"/>
<path d="M92.6 439.2 H121.4" stroke="#ff00ff" stroke-width="1.9" stroke-dasharray="4.3 2.3" fill="none"/>
<path d="M160.9 439.4 H188.2" stroke="#ff0000" stroke-width="2" fill="none"/>
<path d="M295 264 H317.4" stroke="#ff0000" stroke-width="1.7" fill="none"/>
<g font-family="Liberation Sans, sans-serif" fill="#000" stroke="#000" stroke-width="0.2" text-rendering="geometricPrecision" style="filter:grayscale(1)">
<text x="74.8" y="473.2" font-size="13.0" text-anchor="middle" >0</text>
<text x="122.4" y="473.2" font-size="13.0" text-anchor="middle" >1</text>
<text x="169.9" y="473.2" font-size="13.0" text-anchor="middle" >2</text>
<text x="217.4" y="473.2" font-size="13.0" text-anchor="middle" >3</text>
<text x="264.9" y="473.2" font-size="13.0" text-anchor="middle" >4</text>
<text x="312.4" y="473.2" font-size="13.0" text-anchor="middle" >5</text>
<text x="359.9" y="473.2" font-size="13.0" text-anchor="middle" >6</text>
<text x="69.8" y="461.9" font-size="13.0" text-anchor="end" >0.03</text>
<text x="69.8" y="385.3" font-size="13.0" text-anchor="end" >0.06</text>
<text x="69.8" y="308.6" font-size="13.0" text-anchor="end" >0.09</text>
<text x="69.8" y="232.0" font-size="13.0" text-anchor="end" >0.12</text>
<text x="217.5" y="499.3" font-size="18.0" text-anchor="middle" stroke-width="0.3">T/J</text>
<text transform="translate(33.3,343.1) rotate(-90)" font-size="17.9" text-anchor="middle" stroke-width="0.3">Static magnetic susceptibility</text>
<text x="127.5" y="381.8" font-size="12.1" text-anchor="start" >QMC<tspan font-size="6.3" dy="-5.6" dx="0.3">a</tspan></text>
<text x="127.5" y="398.3" font-size="12.1" text-anchor="start" >QMC<tspan font-size="6.3" dy="-5.6" dx="0.3">b</tspan></text>
<text x="127.5" y="413.8" font-size="12.1" text-anchor="start" >HTSE</text>
<text x="127.5" y="428.9" font-size="12.1" text-anchor="start" >Takahashi's</text>
<text x="127.5" y="443.6" font-size="12.1" text-anchor="start" >LSW</text>
<text x="195.0" y="443.6" font-size="12.1" text-anchor="start" >PSW</text>
<text x="322.5" y="255.4" font-size="9.9" text-anchor="start" >HTSE</text>
<text x="322.5" y="267.5" font-size="9.9" text-anchor="start" >PSW</text>
<text x="228.0" y="248.4" font-size="9.7" text-anchor="end" >0.04</text>
<text x="228.0" y="295.8" font-size="9.7" text-anchor="end" >0.02</text>
<text x="230.1" y="326.9" font-size="9.7" text-anchor="middle" >5</text>
<text x="271.9" y="326.9" font-size="9.7" text-anchor="middle" >10</text>
<text x="313.7" y="326.9" font-size="9.7" text-anchor="middle" >15</text>
<text x="355.1" y="326.9" font-size="9.7" text-anchor="middle" >20</text>
<text x="293.0" y="346.2" font-size="14.5" text-anchor="middle" >T/J</text>
</g>
</svg>
</body></html>
